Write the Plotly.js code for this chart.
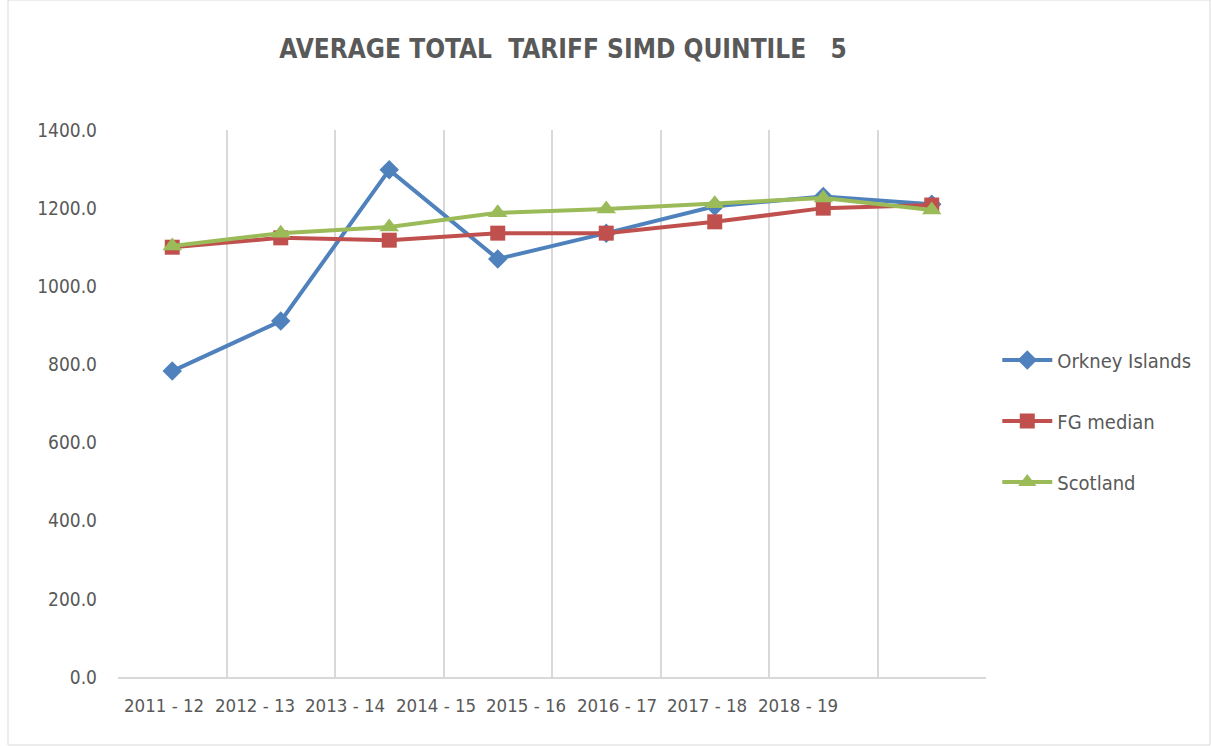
<!DOCTYPE html>
<html>
<head>
<meta charset="utf-8">
<script src="https://cdn.plot.ly/plotly-3.0.1.min.js"></script>
<style>
  body { margin: 0; background: #fff; }
  #chart { width: 1211px; height: 746px; }
</style>
</head>
<body>
<div id="chart"></div>
<script>
// school years (categories)
var years = ["2011 - 12", "2012 - 13", "2013 - 14", "2014 - 15", "2015 - 16", "2016 - 17", "2017 - 18", "2018 - 19"];

// values
var orkney = [783, 911, 1298, 1070, 1136, 1205, 1230, 1210];
var fgMedian = [1100, 1124, 1118, 1136, 1136, 1165, 1200, 1208];
var scotland = [1103, 1136, 1152, 1188, 1198, 1211, 1226, 1195];

var font = "Liberation Sans Narrow, DejaVu Sans Condensed, Liberation Sans, sans-serif";
var grey = "#595959";

function series(name, yvals, color, symbol, size, group) {
  return {
    x: years,
    y: yvals,
    name: name,
    mode: "lines+markers",
    legendgroup: group,
    line: { color: color, width: 4 },
    marker: { color: color, symbol: symbol, size: size },
    cliponaxis: false
  };
}

var data = [
  series("Orkney Islands", orkney, "#4F81BD", "diamond", 15, "a"),
  series("FG median", fgMedian, "#C0504D", "square", 15, "b"),
  series("Scotland", scotland, "#9BBB59", "triangle-up", 17, "c")
];

// the x labels in the original sit squeezed to the left, not under their bands
var labelNotes = years.map(function (y, i) {
  return {
    text: y,
    xref: "paper", yref: "paper",
    x: (46 + i * 90.5) / 868, y: -28 / 547,
    xanchor: "center", yanchor: "middle",
    showarrow: false,
    font: { family: font, size: 18.5, color: grey }
  };
});

var layout = {
  width: 1211,
  height: 746,
  margin: { l: 118, r: 225, t: 130, b: 69, autoexpand: false },
  paper_bgcolor: "#fff",
  plot_bgcolor: "#fff",
  font: { family: font, color: grey },
  title: {
    text: "<b>AVERAGE TOTAL  TARIFF SIMD QUINTILE   5</b>",
    xref: "container", x: 0.465, xanchor: "center",
    yref: "container", y: 0.935, yanchor: "middle",
    font: { family: font, size: 26, color: grey }
  },
  xaxis: {
    type: "category",
    range: [-0.5, 7.5],
    tickson: "boundaries",
    showgrid: true,
    gridcolor: "#D9D9D9",
    gridwidth: 2,
    showline: true,
    linecolor: "#D9D9D9",
    linewidth: 2,
    showticklabels: false,
    ticks: "",
    zeroline: false,
    fixedrange: true
  },
  yaxis: {
    range: [0, 1400],
    dtick: 200,
    tickformat: ".1f",
    showgrid: false,
    zeroline: false,
    showline: false,
    ticks: "",
    ticklabelstandoff: 20,
    tickfont: { family: font, size: 19, color: grey },
    fixedrange: true
  },
  legend: {
    x: 1.013, xanchor: "left",
    y: 0.468, yanchor: "middle",
    traceorder: "grouped",
    tracegroupgap: 32,
    itemwidth: 50,
    font: { family: font, size: 20, color: grey },
    bgcolor: "rgba(0,0,0,0)"
  },
  annotations: labelNotes,
  shapes: [{
    type: "rect",
    xref: "paper", yref: "paper",
    x0: -110 / 868, x1: 1092 / 868,
    y0: -68 / 547, y1: 677 / 547,
    line: { color: "#D9D9D9", width: 1 }
  }]
};

Plotly.newPlot("chart", data, layout, { displayModeBar: false, staticPlot: true });
</script>
</body>
</html>
